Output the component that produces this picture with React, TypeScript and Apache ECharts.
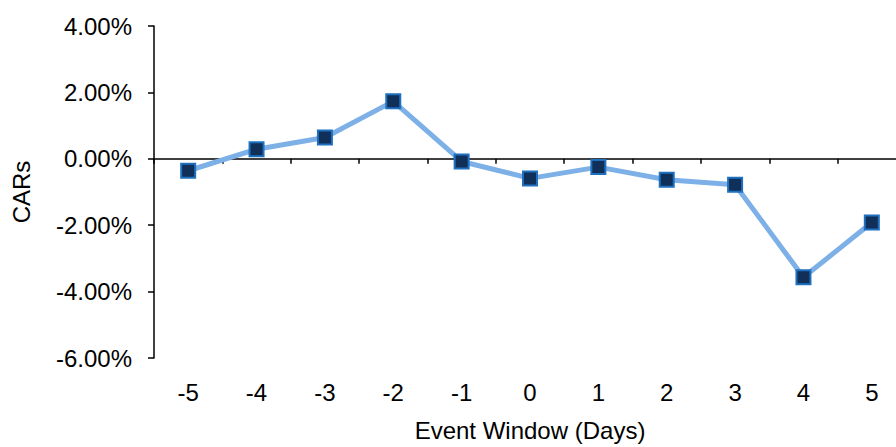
import React, { useEffect, useRef } from "react";
import * as echarts from "echarts";

const categories = ["-5", "-4", "-3", "-2", "-1", "0", "1", "2", "3", "4", "5"];
const cars = [-0.0036, 0.0029, 0.0064, 0.0173, -0.0008, -0.0059, -0.0025, -0.0063, -0.0078, -0.0357, -0.0192];
const yMin = -0.06;
const yMax = 0.04;
const yStep = 0.02;

const FONT = "'Liberation Sans', Arial, sans-serif";
const FS = 24;

export default function App() {
  const ref = useRef<HTMLDivElement>(null);
  useEffect(() => {
    if (!ref.current) return;
    const chart = echarts.init(ref.current, null, { renderer: "svg" });
    chart.setOption({
      animation: false,
      grid: { left: 154, right: 0, top: 26, bottom: 89 },
      xAxis: [
        {
          type: "category",
          data: categories,
          boundaryGap: true,
          axisLine: { onZero: true, lineStyle: { color: "#000", width: 1.5 } },
          axisTick: { show: true, inside: false, length: 5, lineStyle: { color: "#000", width: 1.5 } },
          axisLabel: { show: false },
          splitLine: { show: false },
        },
        {
          type: "category",
          data: categories,
          position: "bottom",
          boundaryGap: true,
          axisLine: { show: false, onZero: false },
          axisTick: { show: false },
          axisLabel: { show: true, margin: 22, color: "#000", fontSize: FS, fontFamily: FONT },
          name: "Event Window (Days)",
          nameLocation: "middle",
          nameGap: 60,
          nameTextStyle: { color: "#000", fontSize: FS, fontFamily: FONT },
          splitLine: { show: false },
        },
      ],
      yAxis: {
        type: "value",
        min: yMin,
        max: yMax,
        interval: yStep,
        axisLine: { show: true, onZero: false, lineStyle: { color: "#000", width: 1.5 } },
        axisTick: { show: true, inside: false, length: 6, lineStyle: { color: "#000", width: 1.5 } },
        axisLabel: {
          margin: 22,
          color: "#000",
          fontSize: FS,
          fontFamily: FONT,
          formatter: (v: number) => (v * 100).toFixed(2) + "%",
        },
        splitLine: { show: false },
        name: "CARs",
        nameLocation: "middle",
        nameGap: 121,
        nameRotate: 90,
        nameTextStyle: { color: "#000", fontSize: FS, fontFamily: FONT },
      },
      series: [
        {
          type: "line",
          xAxisIndex: 0,
          data: cars,
          symbol: "rect",
          symbolSize: 14,
          lineStyle: { color: "#7DB0E6", width: 5 },
          itemStyle: { color: "#10305A", borderColor: "#1E70C0", borderWidth: 2 },
          z: 5,
        },
      ],
    });
    return () => chart.dispose();
  }, []);
  return (
    <div style={{ width: 896, height: 447, position: "absolute", left: 0, top: 0, overflow: "hidden" }}>
      <div ref={ref} style={{ width: 906, height: 447 }} />
    </div>
  );
}
